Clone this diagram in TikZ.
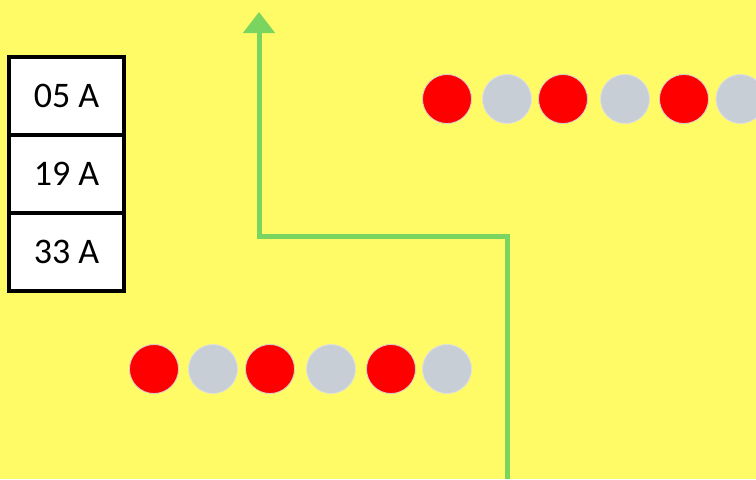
\documentclass[tikz,border=0pt]{standalone}
\usepackage{fontspec}
\setmainfont{Carlito}
\usetikzlibrary{arrows.meta}
\definecolor{bgyellow}{RGB}{255,251,102}
\definecolor{dotred}{RGB}{255,0,0}
\definecolor{dotgrey}{RGB}{200,206,214}
\definecolor{pathgreen}{RGB}{122,212,96}
\tikzset{
  fusebox/.style={draw=black, line width=3pt, fill=white, minimum width=86.25pt, minimum height=58.5pt, inner sep=0pt, font=\fontsize{27}{30}\selectfont},
  reddot/.style={circle, fill=dotred, draw=black!18, line width=0.6pt, minimum size=36.75pt, inner sep=0pt},
  greydot/.style={circle, fill=dotgrey, draw=black!12, line width=0.6pt, minimum size=36.75pt, inner sep=0pt}
}
\begin{document}
\begin{tikzpicture}[x=0.75pt,y=-0.75pt]
	\fill[bgyellow] (0,0) rectangle (756,479);
	\useasboundingbox (0,0) rectangle (756,479);
	\coordinate (start) at (507,479);
	\coordinate (turnright) at (507,236);
	\coordinate (turnleft) at (259,236);
	\coordinate (tip) at (259,12);
	\draw[pathgreen, line width=3.75pt, -{Triangle[width=23.25pt,length=15.75pt]}] (start) -- (turnright) -- (turnleft) -- (tip);
	\node [fusebox] (box05) at (66.5,96) {05 A};
	\node [fusebox] (box19) at (66.5,174) {19 A};
	\node [fusebox] (box33) at (66.5,252) {33 A};
	 \node [reddot] (topa) at (447,99) {};
	 \node [greydot] (topb) at (507,99) {};
	 \node [reddot] (topc) at (563,99) {};
	 \node [greydot] (topd) at (625,99) {};
	 \node [reddot] (tope) at (684,99) {};
	 \node [greydot] (topf) at (740.5,99) {};
	 \node [reddot] (lowa) at (154,369) {};
	 \node [greydot] (lowb) at (213,369) {};
	 \node [reddot] (lowc) at (270,369) {};
	 \node [greydot] (lowd) at (331,369) {};
	 \node [reddot] (lowe) at (391,369) {};
	 \node [greydot] (lowf) at (447,369) {};
\end{tikzpicture}
\end{document}
